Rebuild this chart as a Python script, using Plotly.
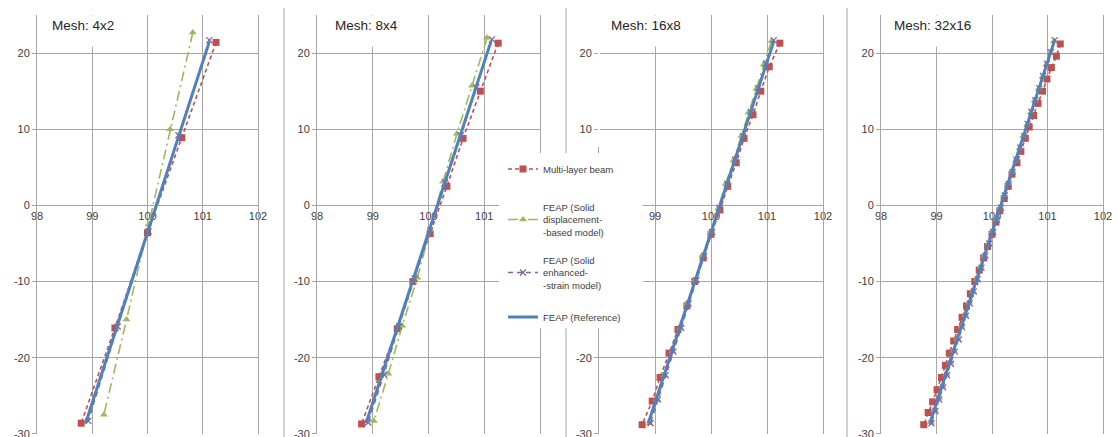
import plotly.graph_objects as go

W, H = 1117, 437

# ---------------- data ----------------
panel_titles = ["Mesh: 4x2", "Mesh: 8x4", "Mesh: 16x8", "Mesh: 32x16"]
x_ticks = [98, 99, 100, 101, 102]
x_tick_labels = ["98", "99", "100", "101", "102"]
y_ticks = [-30, -20, -10, 0, 10, 20]
y_tick_labels = ["-30", "-20", "-10", "0", "10", "20"]
series_names = [
    "Multi-layer beam",
    "FEAP (Solid<br>displacement-<br>-based model)",
    "FEAP (Solid<br>enhanced-<br>-strain model)",
    "FEAP (Reference)",
]

# Reference solution (same in every panel)
ref_x = [101.12, 100.84, 100.56, 100.28, 100.00, 99.72, 99.44, 99.16, 98.88]
ref_y = [21.5, 15.2, 9.0, 2.7, -3.5, -9.8, -16.1, -22.3, -28.6]

# Panel 1: mesh 4x2
p1_beam_x = [101.24, 100.62, 100.00, 99.41, 98.80]
p1_beam_y = [21.4, 8.9, -3.6, -16.1, -28.6]
p1_disp_x = [100.82, 100.41, 100.02, 99.62, 99.21]
p1_disp_y = [22.7, 10.0, -2.5, -15.0, -27.5]
p1_enh_x = [101.12, 100.56, 100.02, 99.46, 98.93]
p1_enh_y = [21.7, 9.2, -3.4, -15.9, -28.3]

# Panel 2: mesh 8x4
p2_beam_x = [101.25, 100.93, 100.62, 100.33, 100.03, 99.72, 99.44, 99.11, 98.80]
p2_beam_y = [21.3, 15.0, 8.8, 2.5, -3.7, -10.0, -16.2, -22.5, -28.7]
p2_disp_x = [101.05, 100.78, 100.51, 100.26, 100.03, 99.80, 99.53, 99.28, 99.02]
p2_disp_y = [22.0, 15.7, 9.4, 3.1, -3.2, -9.5, -15.8, -22.1, -28.3]
p2_enh_x = [101.14, 100.86, 100.58, 100.30, 100.03, 99.75, 99.47, 99.20, 98.92]
p2_enh_y = [21.8, 15.5, 9.2, 3.0, -3.3, -9.6, -15.9, -22.2, -28.5]

# Panel 3: mesh 16x8
p3_beam_x = [101.23, 101.04, 100.89, 100.75, 100.59, 100.45, 100.30, 100.16, 100.00,
             99.86, 99.71, 99.57, 99.41, 99.25, 99.09, 98.95, 98.77]
p3_beam_y = [21.3, 18.2, 15.0, 11.9, 8.8, 5.6, 2.5, -0.6, -3.8,
             -6.9, -10.0, -13.2, -16.3, -19.4, -22.6, -25.7, -28.8]
p3_disp_x = [101.08, 100.94, 100.81, 100.67, 100.54, 100.40, 100.26, 100.13, 99.99,
             99.85, 99.72, 99.58, 99.45, 99.31, 99.17, 99.04, 98.90]
p3_disp_y = [21.6, 18.5, 15.3, 12.2, 9.1, 5.9, 2.8, -0.4, -3.5,
             -6.6, -9.8, -12.9, -16.1, -19.2, -22.3, -25.5, -28.6]
p3_enh_x = [101.12, 100.98, 100.84, 100.71, 100.57, 100.43, 100.29, 100.15, 100.02,
            99.88, 99.74, 99.60, 99.47, 99.33, 99.19, 99.05, 98.92]
p3_enh_y = [21.7, 18.6, 15.4, 12.3, 9.1, 6.0, 2.8, -0.3, -3.5,
            -6.6, -9.8, -12.9, -16.1, -19.2, -22.3, -25.5, -28.6]

# Panel 4: mesh 32x16
p4_beam_x = [101.23, 101.16, 101.07, 100.99, 100.91, 100.83, 100.75, 100.67, 100.60,
             100.52, 100.45, 100.36, 100.29, 100.22, 100.14, 100.07, 100.00,
             99.92, 99.85, 99.77, 99.69, 99.61, 99.54, 99.46, 99.38, 99.31,
             99.23, 99.16, 99.09, 99.01, 98.93, 98.85, 98.77]
p4_beam_y = [21.2, 19.6, 18.1, 16.6, 15.0, 13.4, 11.8, 10.3, 8.8,
             7.1, 5.6, 4.1, 2.5, 0.9, -0.7, -2.2, -3.8,
             -5.4, -6.9, -8.5, -10.0, -11.6, -13.2, -14.7, -16.3, -17.8,
             -19.4, -21.0, -22.6, -24.2, -25.8, -27.2, -28.8]
p4_disp_x = [101.12, 101.05, 100.98, 100.91, 100.84, 100.77, 100.70, 100.63, 100.56,
             100.50, 100.43, 100.36, 100.29, 100.22, 100.15, 100.08, 100.01,
             99.94, 99.87, 99.80, 99.73, 99.66, 99.59, 99.52, 99.45, 99.38,
             99.31, 99.25, 99.18, 99.11, 99.04, 98.97, 98.90]
p4_disp_y = [21.6, 20.0, 18.5, 16.9, 15.3, 13.8, 12.2, 10.6, 9.1,
             7.5, 5.9, 4.4, 2.8, 1.3, -0.3, -1.9, -3.4,
             -5.0, -6.6, -8.1, -9.7, -11.3, -12.8, -14.4, -15.9, -17.5,
             -19.1, -20.6, -22.2, -23.8, -25.3, -26.9, -28.5]
p4_enh_x = [101.13, 101.06, 100.99, 100.92, 100.85, 100.78, 100.71, 100.64, 100.58,
            100.51, 100.44, 100.37, 100.30, 100.23, 100.16, 100.09, 100.02,
            99.95, 99.88, 99.81, 99.74, 99.67, 99.60, 99.53, 99.46, 99.40,
            99.33, 99.26, 99.19, 99.12, 99.05, 98.98, 98.91]
p4_enh_y = [21.7, 20.1, 18.6, 17.0, 15.4, 13.8, 12.3, 10.7, 9.1,
            7.6, 6.0, 4.4, 2.8, 1.3, -0.3, -1.9, -3.5,
            -5.0, -6.6, -8.2, -9.7, -11.3, -12.9, -14.5, -16.0, -17.6,
            -19.2, -20.8, -22.3, -23.9, -25.5, -27.0, -28.6]

panels = [
    (p1_beam_x, p1_beam_y, p1_disp_x, p1_disp_y, p1_enh_x, p1_enh_y),
    (p2_beam_x, p2_beam_y, p2_disp_x, p2_disp_y, p2_enh_x, p2_enh_y),
    (p3_beam_x, p3_beam_y, p3_disp_x, p3_disp_y, p3_enh_x, p3_enh_y),
    (p4_beam_x, p4_beam_y, p4_disp_x, p4_disp_y, p4_enh_x, p4_enh_y),
]

# ---------------- layout helpers ----------------
def fx(px):
    return px / W

def fy(py):
    return (H - py) / H

RED = "#C0504D"
GREEN = "#9BBB59"
PURPLE = "#8064A2"
BLUE = "#4F81BD"
GRID = "#A6A6A6"
TXT = "#404040"
FONT = "Liberation Sans, Arial, sans-serif"

x_px = [(37, 258), (317, 540), (599, 823), (881, 1103)]
y_dom = [fy(434), fy(15)]
y_rng = [-30.02, 25]
title_left_px = [49, 332, 608, 891]

# tick labels hidden behind the legend box in the original
hidden_x = {1: [102], 2: [98]}
hidden_y = {2: [0, -10]}

fig = go.Figure()
layout = dict(
    width=W, height=H, margin=dict(l=0, r=0, t=0, b=0, pad=0), autosize=False,
    paper_bgcolor="white", plot_bgcolor="white", showlegend=True,
    font=dict(family=FONT, color=TXT),
)

for i, (bx, by, dx, dy, ex, ey) in enumerate(panels):
    n = "" if i == 0 else str(i + 1)
    xa, ya = "x" + n, "y" + n
    show = i == 0
    fig.add_trace(go.Scatter(
        x=bx, y=by, xaxis=xa, yaxis=ya, name=series_names[0], showlegend=show,
        legend="legend", mode="lines+markers",
        line=dict(color=RED, width=1.6, dash="4px,3px"),
        marker=dict(symbol="square", size=7, color=RED)))
    fig.add_trace(go.Scatter(
        x=dx, y=dy, xaxis=xa, yaxis=ya, name=series_names[1], showlegend=show,
        legend="legend2", mode="lines+markers",
        line=dict(color=GREEN, width=1.6, dash="10px,4px,2px,4px"),
        marker=dict(symbol="triangle-up", size=7, color=GREEN)))
    fig.add_trace(go.Scatter(
        x=ex, y=ey, xaxis=xa, yaxis=ya, name=series_names[2], showlegend=show,
        legend="legend3", mode="lines+markers",
        line=dict(color=PURPLE, width=1.4, dash="5px,4px"),
        marker=dict(symbol="x-thin", size=6, color=PURPLE,
                    line=dict(color=PURPLE, width=1.3))))
    fig.add_trace(go.Scatter(
        x=ref_x, y=ref_y, xaxis=xa, yaxis=ya, name=series_names[3], showlegend=show,
        legend="legend4", mode="lines",
        line=dict(color=BLUE, width=3)))

    xt = ["" if v in hidden_x.get(i, []) else s for v, s in zip(x_ticks, x_tick_labels)]
    yt = ["" if v in hidden_y.get(i, []) else s for v, s in zip(y_ticks, y_tick_labels)]

    d0, d1 = y_dom
    x_pos = d0 + (0 - y_rng[0]) / (y_rng[1] - y_rng[0]) * (d1 - d0)
    layout["xaxis" + n] = dict(
        domain=[fx(x_px[i][0]), fx(x_px[i][1])], range=[98, 102],
        tickvals=x_ticks, ticktext=xt, anchor="free", position=x_pos,
        showgrid=True, gridcolor=GRID, gridwidth=1, zeroline=False,
        showline=False, ticks="", ticklabelstandoff=3, automargin=False,
        ticklabeloverflow="allow",
        tickfont=dict(size=11, color=TXT, family=FONT), layer="below traces",
    )
    layout["yaxis" + n] = dict(
        domain=y_dom, range=y_rng, tickvals=y_ticks, ticktext=yt, anchor=xa,
        showgrid=True, gridcolor=GRID, gridwidth=1, zeroline=False,
        showline=True, mirror=True, linecolor=GRID, linewidth=1,
        ticks="outside", ticklen=4, tickcolor=GRID, automargin=False,
        ticklabeloverflow="allow",
        tickfont=dict(size=11, color=TXT, family=FONT),
    )

# panel titles (white boxes hiding grid lines)
annotations = []
for i, t in enumerate(panel_titles):
    annotations.append(dict(
        text=t, xref="paper", yref="paper", x=fx(title_left_px[i]), y=fy(15),
        xanchor="left", yanchor="top", showarrow=False, align="left",
        valign="top", height=26, width=90, borderpad=2, bgcolor="white",
        font=dict(size=13.5, color="#262626", family=FONT)))
layout["annotations"] = annotations

# separators between chart panels, white legend box
shapes = []
for sx in [284, 566, 847]:
    shapes.append(dict(type="line", xref="paper", yref="paper",
                       x0=fx(sx), x1=fx(sx), y0=0, y1=fy(8),
                       line=dict(color=GRID, width=1), layer="above"))
shapes.append(dict(type="rect", xref="paper", yref="paper",
                   x0=fx(499), x1=fx(643), y0=fy(328), y1=fy(153),
                   fillcolor="white", line=dict(width=0), layer="above"))
# left axis line of third panel is not drawn above the legend in the original
shapes.append(dict(type="line", xref="paper", yref="paper",
                   x0=fx(599), x1=fx(599), y0=fy(147), y1=fy(14),
                   line=dict(color="white", width=2), layer="above"))
layout["shapes"] = shapes

leg_common = dict(xanchor="left", yanchor="middle", bgcolor="rgba(0,0,0,0)",
                  borderwidth=0, itemwidth=30,
                  font=dict(size=9.5, color=TXT, family=FONT))
layout["legend"] = dict(x=fx(503), y=fy(169), **leg_common)
layout["legend2"] = dict(x=fx(503), y=fy(220), **leg_common)
layout["legend3"] = dict(x=fx(503), y=fy(273), **leg_common)
layout["legend4"] = dict(x=fx(503), y=fy(317), **leg_common)

fig.update_layout(**layout)
fig.write_html(
    "out.html",
    config={"displayModeBar": False},
    post_script="document.body.style.margin='0px';document.body.style.overflow='hidden';",
)
